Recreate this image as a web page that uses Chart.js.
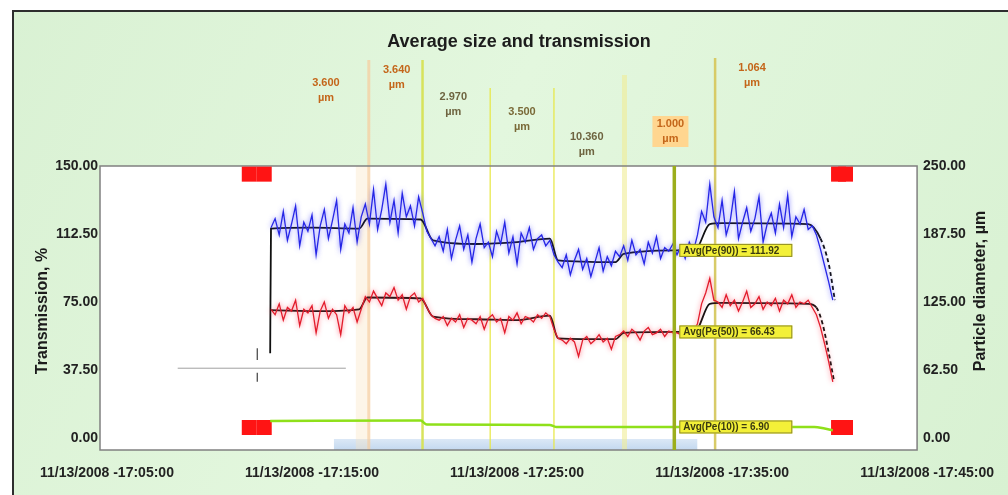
<!DOCTYPE html>
<html>
<head>
<meta charset="utf-8">
<script src="https://cdn.jsdelivr.net/npm/chart.js@4/dist/chart.umd.min.js"></script>
<style>
html, body { margin: 0; padding: 0; background: #fff; }
#wrap { width: 1008px; height: 495px; }
</style>
</head>
<body>
<div id="wrap"><canvas id="c" width="1008" height="495"></canvas></div>
<script>
// Readings: minutes after 17:00 on 11/13/2008
const sampleStart = 13.0;   // first reading
const sampleStep = 0.2;     // minutes between readings

// Pe(90) readings
const pe90 = [
  116, 121, 112, 125, 109, 118, 128, 106, 119, 114, 123, 101, 117, 126, 110, 120, 131, 104, 118, 113, 127, 108, 122,
  129, 118, 137, 115, 126, 140, 119, 131, 113, 135, 122, 128, 117, 133, 124,
  114, 110, 106,
  111, 103, 115, 99, 109, 117, 104, 112, 97, 110, 118, 105, 108, 100, 114, 107, 119, 102, 111, 96, 113, 108, 116, 104, 110, 112, 106, 109,
  101, 97,
  94, 101, 90, 98, 104, 93, 99, 89, 97, 105, 92, 100, 95, 103,
  100, 106, 98, 109, 101, 104, 96, 108, 102, 111, 99, 105, 103, 107,
  101, 106, 99, 108, 103,
  112, 125, 119, 140, 122,
  116, 131, 112, 120, 136, 110, 119, 127, 114, 121, 133, 108, 118, 124, 113, 129, 116, 134, 111, 122, 118, 126, 115,
  117, 112, 104, 95, 86, 76
];

// Pe(50) readings
const pe50 = [
  71, 68, 74, 65, 72, 70, 76, 62, 71, 69, 73, 58, 70, 75, 66, 71, 68, 57, 73, 69, 72, 64, 71,
  78, 75, 81, 77, 73, 80, 78, 83, 76, 79, 71, 78, 80, 75, 77,
  72, 68, 66,
  65, 67, 62, 66, 64, 68, 61, 66, 65, 63, 67, 60, 66, 68, 64, 66, 58, 67, 65, 69, 63, 67, 66, 64, 68, 66, 69, 67,
  60, 55,
  54, 52, 55, 53, 45, 54, 56, 52, 54, 57, 53, 55, 49, 56,
  57, 59, 56, 60, 58, 54, 59, 61, 57, 58, 60, 56, 59, 58,
  58, 57, 60, 58, 59,
  63, 74, 80, 88, 76,
  75, 72, 79, 73, 76, 70, 75, 81, 72, 74, 78, 71, 75, 73, 77, 70, 76, 74, 79, 72, 75, 74, 76,
  72, 68, 61, 52, 42, 31
];

// Smoothed Pe(90)
const pe90TrendTimes  = [12.96, 13.0, 15.0, 17.3, 17.7, 20.3, 20.9, 23.0, 25.0, 26.6, 27.0, 29.8, 30.2, 32.7, 33.7, 34.4, 35.0, 39.2, 39.8, 40.2, 40.5];
const pe90TrendValues = [46.8, 115.5, 116, 115.5, 121, 120.5, 109, 107, 108, 110, 98, 97, 101.5, 103.5, 104, 118, 118.5, 118, 110, 96, 76];

// Smoothed Pe(50)
const pe50TrendTimes  = [13.0, 15.5, 17.3, 17.7, 20.3, 20.9, 23.0, 25.0, 26.6, 27.0, 29.8, 30.2, 32.7, 33.7, 34.4, 35.0, 39.2, 39.6, 39.9, 40.2, 40.45];
const pe50TrendValues = [70.5, 70, 71, 77.5, 77, 67, 65.5, 65, 67.5, 55, 54.5, 58, 58.5, 59, 74, 74.5, 74, 72, 63, 47, 32];

// Pe(10)
const pe10Times  = [12.96, 20.3, 20.6, 26.6, 26.9, 39.5, 40.0, 40.4];
const pe10Values = [9.4, 9.6, 7.4, 7.2, 6.1, 6.1, 5.2, 4.2];

// Axis ticks
const timeTicks = [5, 15, 25, 35, 45];
const transmissionTicks = [0, 37.5, 75, 112.5, 150];
const diameterTicks = [0, 62.5, 125, 187.5, 250];

// Events along the run
const eventTimes = [17.77, 20.39, 23.69, 26.80, 30.24, 32.67, 34.66];
const noteTimes  = [15.68, 19.13, 21.89, 25.24, 28.40, 32.48, 36.46];
const noteValues = ['3.600', '3.640', '2.970', '3.500', '10.360', '1.000', '1.064'];
const noteUnit = 'µm';
const cursorTime = 32.67;

// Start / end marks
const startMarkTimes = [11.94, 12.67];
const endMarkTimes = [40.68, 41.02];
const markLevels = [145.5, 5.8];

// Reference guide
const guideTimes = [8.45, 16.65];
const guideLevel = 38.5;
const startTickTime = 12.33;
const startTickLevels = [49.5, 43, null, 36, 31];

// Selected range
const rangeStart = 16.07;
const rangeEnd = 33.79;

// ---------- drawing ----------
const FONT = "'Liberation Sans', Arial, sans-serif";
Chart.defaults.font.family = FONT;

const sampled = arr => arr.map((v, i) => ({ x: sampleStart + i * sampleStep, y: v }));
const paired = (ts, vs) => ts.map((t, i) => ({ x: t, y: vs[i] }));
const mean = arr => arr.reduce((s, v) => s + v, 0) / arr.length;
const interp = (ts, vs, t) => {
  for (let i = 1; i < ts.length; i++) {
    if (t <= ts[i]) { const f = (t - ts[i - 1]) / (ts[i] - ts[i - 1]); return vs[i - 1] + f * (vs[i] - vs[i - 1]); }
  }
  return vs[vs.length - 1];
};

const marks = [];
startMarkTimes.concat(endMarkTimes).forEach(t => markLevels.forEach(l => marks.push({ x: t, y: l })));

const eventStyles = [
  { color: 'rgba(246,205,160,0.75)', width: 3, top: 60, band: 'rgba(250,225,190,0.35)' },
  { color: 'rgba(214,226,84,0.95)', width: 2.5, top: 60 },
  { color: 'rgba(232,232,70,0.95)', width: 1.3, top: 88 },
  { color: 'rgba(232,232,70,0.95)', width: 1.3, top: 88 },
  { color: 'rgba(240,236,150,0.6)', width: 5, top: 75 },
  null,
  { color: 'rgba(214,200,96,0.95)', width: 2.5, top: 58 }
];
const noteStyles = [
  { y: 83, color: '#c4661a' },
  { y: 70, color: '#c4661a' },
  { y: 97, color: '#6e6440' },
  { y: 112, color: '#7a6a38' },
  { y: 137, color: '#6e6440' },
  { y: 124, color: '#c4661a', bg: '#ffd690' },
  { y: 68, color: '#c4661a' }
];

const scenery = {
  id: 'scenery',
  beforeDraw(chart) {
    const { ctx, chartArea: a, width: W, height: H } = chart;
    const x = chart.scales.x;
    ctx.save();
    ctx.fillStyle = '#ffffff';
    ctx.fillRect(0, 0, W, H);
    const g = ctx.createLinearGradient(0, 0, W, H);
    g.addColorStop(0, '#d9f1d3');
    g.addColorStop(0.45, '#e3f7de');
    g.addColorStop(1, '#d8f1d2');
    ctx.fillStyle = g;
    ctx.fillRect(13, 11, W - 13, H - 11);
    ctx.strokeStyle = '#2e2e2e';
    ctx.lineWidth = 2;
    ctx.beginPath();
    ctx.moveTo(13, H);
    ctx.lineTo(13, 11);
    ctx.lineTo(W, 11);
    ctx.stroke();
    ctx.fillStyle = '#ffffff';
    ctx.fillRect(a.left, a.top, a.right - a.left, a.bottom - a.top);
    const x0 = x.getPixelForValue(rangeStart), x1 = x.getPixelForValue(rangeEnd);
    const bg = ctx.createLinearGradient(0, a.bottom - 11, 0, a.bottom);
    bg.addColorStop(0, '#dbe8f6');
    bg.addColorStop(1, '#c3d8ef');
    ctx.fillStyle = bg;
    ctx.fillRect(x0, a.bottom - 11, x1 - x0, 11);
    ctx.restore();
  },
  beforeDatasetsDraw(chart) {
    const { ctx, chartArea: a } = chart;
    const x = chart.scales.x;
    ctx.save();
    eventTimes.forEach((t, i) => {
      const s = eventStyles[i];
      if (!s) return;
      const px = x.getPixelForValue(t);
      if (s.band) {
        ctx.fillStyle = s.band;
        ctx.fillRect(px - 13, a.top, 12, a.bottom - a.top);
      }
      ctx.strokeStyle = s.color;
      ctx.lineWidth = s.width;
      ctx.beginPath();
      ctx.moveTo(px, s.top);
      ctx.lineTo(px, a.bottom);
      ctx.stroke();
    });
    ctx.strokeStyle = '#808080';
    ctx.lineWidth = 1.5;
    ctx.strokeRect(a.left, a.top, a.right - a.left, a.bottom - a.top);
    ctx.restore();
  },
  beforeDatasetDraw(chart, args) {
    const ds = chart.data.datasets[args.index];
    if (ds.halo) {
      chart.ctx.save();
      chart.ctx.shadowColor = ds.halo;
      chart.ctx.shadowBlur = 5;
    }
  },
  afterDatasetDraw(chart, args) {
    if (chart.data.datasets[args.index].halo) chart.ctx.restore();
  },
  afterDatasetsDraw(chart) {
    const { ctx, chartArea: a } = chart;
    const x = chart.scales.x, y = chart.scales.y;
    ctx.save();
    // cursor
    const cx = x.getPixelForValue(cursorTime);
    ctx.strokeStyle = '#9cae1c';
    ctx.lineWidth = 3.5;
    ctx.beginPath();
    ctx.moveTo(cx, a.top);
    ctx.lineTo(cx, a.bottom);
    ctx.stroke();
    // readouts at the cursor
    const readouts = [
      { text: 'Avg(Pe(90)) = ' + mean(pe90).toFixed(2), v: interp(pe90TrendTimes, pe90TrendValues, cursorTime) },
      { text: 'Avg(Pe(50)) = ' + mean(pe50).toFixed(2), v: interp(pe50TrendTimes, pe50TrendValues, cursorTime) },
      { text: 'Avg(Pe(10)) = ' + mean(pe10Values).toFixed(2), v: interp(pe10Times, pe10Values, cursorTime) }
    ];
    ctx.font = 'bold 10px ' + FONT;
    ctx.textBaseline = 'middle';
    ctx.textAlign = 'left';
    readouts.forEach(r => {
      const py = y.getPixelForValue(r.v);
      ctx.fillStyle = '#f3f038';
      ctx.fillRect(cx + 5, py - 6.5, 113, 13);
      ctx.strokeStyle = '#8c8a24';
      ctx.lineWidth = 1;
      ctx.strokeRect(cx + 5.5, py - 6, 112, 12);
      ctx.fillStyle = '#3a3a10';
      ctx.fillText(r.text, cx + 9, py + 0.5);
    });
    // event notes
    ctx.textAlign = 'center';
    ctx.font = 'bold 11px ' + FONT;
    noteTimes.forEach((t, i) => {
      const s = noteStyles[i];
      const px = x.getPixelForValue(t);
      if (s.bg) {
        ctx.fillStyle = s.bg;
        ctx.fillRect(px - 18, s.y - 8, 36, 31);
      }
      ctx.fillStyle = s.color;
      ctx.fillText(noteValues[i], px, s.y);
      ctx.fillText(noteUnit, px, s.y + 15);
    });
    // title
    ctx.fillStyle = '#1c1c1c';
    ctx.font = 'bold 18px ' + FONT;
    ctx.fillText('Average size and transmission', 519, 42);
    // axis titles
    ctx.font = 'bold 16px ' + FONT;
    ctx.translate(43, 311);
    ctx.rotate(-Math.PI / 2);
    ctx.fillText('Transmission, %', 0, 0);
    ctx.setTransform(1, 0, 0, 1, 0, 0);
    ctx.translate(981, 291);
    ctx.rotate(-Math.PI / 2);
    ctx.fillText('Particle diameter, µm', 0, 0);
    ctx.restore();
  }
};

const tickFont = { family: FONT, size: 14, weight: 'bold' };
const two = n => (n < 10 ? '0' : '') + n;

new Chart(document.getElementById('c'), {
  type: 'line',
  data: {
    datasets: [
      { data: paired(guideTimes, [guideLevel, guideLevel]), borderColor: '#a0a0a0', borderWidth: 1, pointRadius: 0 },
      { data: startTickLevels.map(v => ({ x: startTickTime, y: v })), borderColor: '#404040', borderWidth: 1.2, pointRadius: 0, spanGaps: false },
      { data: paired(pe10Times, pe10Values), borderColor: '#8fe01a', borderWidth: 2.5, pointRadius: 0, cubicInterpolationMode: 'monotone' },
      { data: sampled(pe90), borderColor: '#2626e6', borderWidth: 1.3, pointRadius: 0, halo: 'rgba(70,70,255,0.8)' },
      { data: sampled(pe50), borderColor: '#e21c2c', borderWidth: 1.3, pointRadius: 0, halo: 'rgba(255,60,80,0.8)' },
      { data: paired(pe90TrendTimes, pe90TrendValues), borderColor: '#101010', borderWidth: 1.8, pointRadius: 0, cubicInterpolationMode: 'monotone',
        segment: { borderDash: c => (c.p0.parsed.x >= 39.6 ? [4, 3] : undefined) } },
      { data: paired(pe50TrendTimes, pe50TrendValues), borderColor: '#101010', borderWidth: 1.8, pointRadius: 0, cubicInterpolationMode: 'monotone',
        segment: { borderDash: c => (c.p0.parsed.x >= 39.6 ? [4, 3] : undefined) } },
      { data: marks, showLine: false, pointStyle: 'rect', pointRadius: 10.6, pointBackgroundColor: '#ff1414', pointBorderWidth: 0, clip: false }
    ]
  },
  options: {
    responsive: false,
    devicePixelRatio: 1,
    animation: false,
    events: [],
    layout: { padding: { top: 166, left: 0, right: 0, bottom: 0 } },
    plugins: { legend: { display: false }, title: { display: false }, tooltip: { enabled: false } },
    scales: {
      x: {
        type: 'linear', min: 4.66, max: 44.51,
        afterBuildTicks: s => { s.ticks = timeTicks.map(v => ({ value: v })); },
        afterFit: s => { s.height = 45; },
        grid: { display: false, drawTicks: false }, border: { display: false },
        ticks: { autoSkip: false, maxRotation: 0, padding: 15, font: tickFont, color: '#222',
          callback: v => '11/13/2008 -17:' + two(v) + ':00' }
      },
      y: {
        position: 'left', min: -6.6, max: 150,
        afterBuildTicks: s => { s.ticks = transmissionTicks.map(v => ({ value: v })); },
        afterFit: s => { s.width = 100; },
        grid: { display: false, drawTicks: false }, border: { display: false },
        ticks: { padding: 2, font: tickFont, color: '#222', callback: v => v.toFixed(2) }
      },
      y1: {
        position: 'right', min: -11, max: 250,
        afterBuildTicks: s => { s.ticks = diameterTicks.map(v => ({ value: v })); },
        afterFit: s => { s.width = 87; },
        grid: { display: false, drawTicks: false }, border: { display: false },
        ticks: { padding: 6, font: tickFont, color: '#222', callback: v => v.toFixed(2) }
      }
    }
  },
  plugins: [scenery]
});
</script>
</body>
</html>
